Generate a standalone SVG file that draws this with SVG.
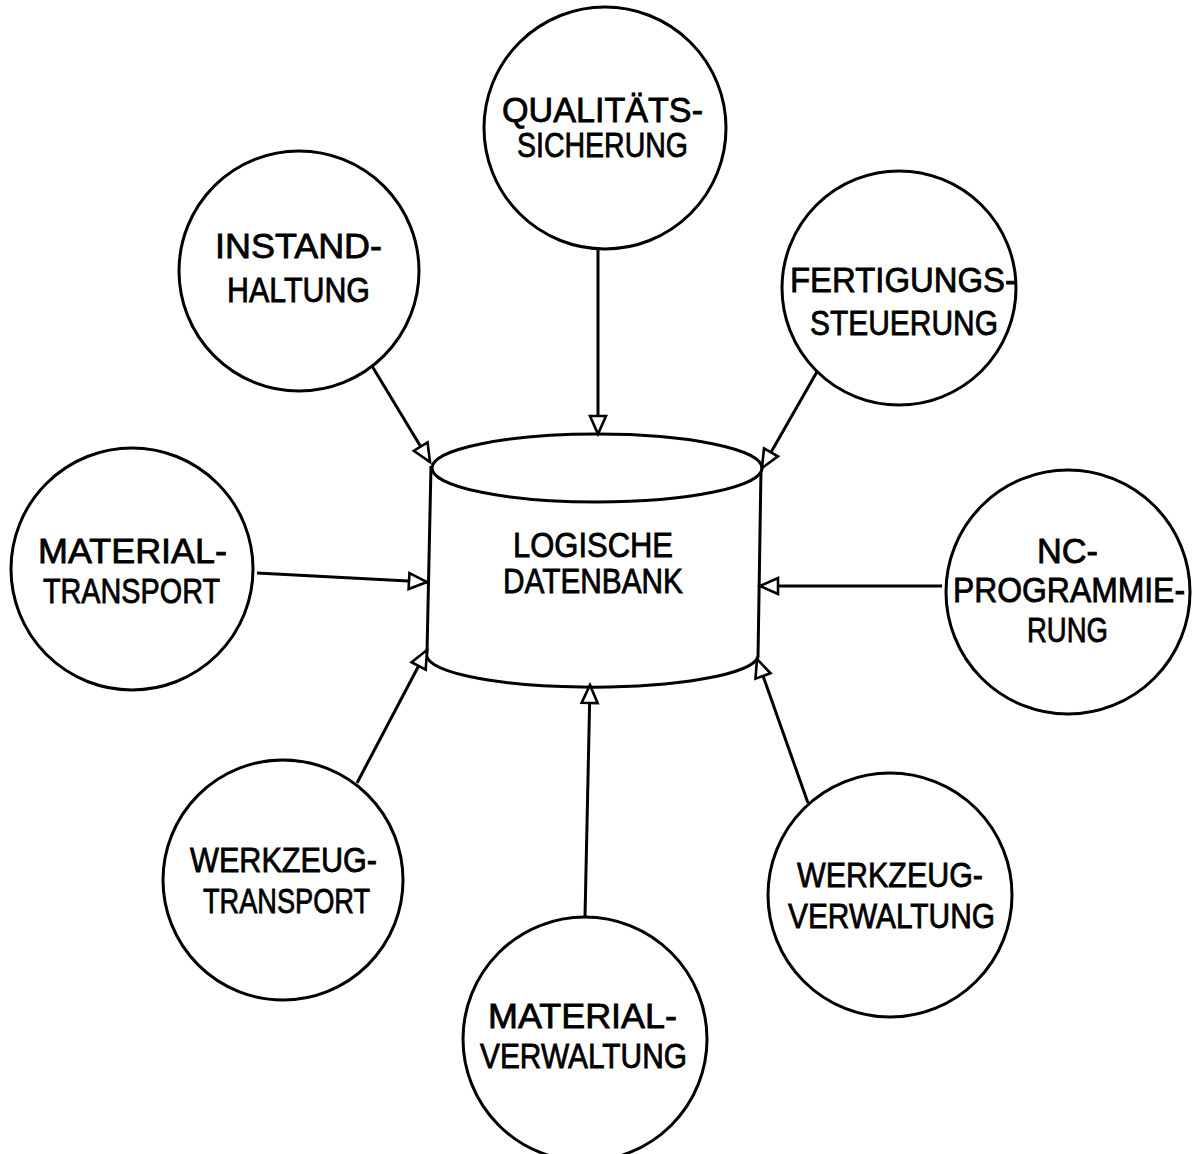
<svg xmlns="http://www.w3.org/2000/svg" width="1196" height="1154" viewBox="0 0 1196 1154">
<style>
.node{fill:#fff;stroke:#000;stroke-width:3}
.lbl{font-family:"Liberation Sans","DejaVu Sans",sans-serif;font-size:35px;fill:#000;stroke:#000;stroke-width:0.8}
.edge{stroke:#000;stroke-width:3;fill:none;marker-end:url(#tri)}
</style>
<defs>
<marker id="tri" markerUnits="userSpaceOnUse" markerWidth="24" markerHeight="20" viewBox="-2 -2 24 20" refX="18" refY="8" orient="auto">
<path d="M0,0 L18,8 L0,16 Z" fill="#fff" stroke="#000" stroke-width="2.6" stroke-linejoin="miter"/>
</marker>
</defs>
<rect width="1196" height="1154" fill="#fff"/>
<g id="db">
<path class="node" d="M431,466 L427,653 A165,32 0 0 0 758,657 L761,470"/>
<ellipse class="node" cx="597" cy="468" rx="165" ry="34"/>
<text class="lbl" x="513" y="557" textLength="160" lengthAdjust="spacingAndGlyphs">LOGISCHE</text>
<text class="lbl" x="503" y="593" textLength="180" lengthAdjust="spacingAndGlyphs">DATENBANK</text>
</g>
<g id="connectors">
<line class="edge" x1="598" y1="249" x2="598" y2="434"/>
<line class="edge" x1="372" y1="366" x2="430" y2="462"/>
<line class="edge" x1="818" y1="370" x2="762" y2="468"/>
<line class="edge" x1="257" y1="573" x2="427" y2="582"/>
<line class="edge" x1="942" y1="586" x2="760" y2="586"/>
<line class="edge" x1="357" y1="783" x2="427" y2="650"/>
<line class="edge" x1="808" y1="803" x2="757" y2="659"/>
<line class="edge" x1="585" y1="917" x2="590" y2="685"/>
</g>
<g id="qs">
<circle class="node" cx="605" cy="128" r="121"/>
<text class="lbl" x="502" y="122" textLength="201" lengthAdjust="spacingAndGlyphs">QUALITÄTS-</text>
<text class="lbl" x="517" y="157" textLength="171" lengthAdjust="spacingAndGlyphs">SICHERUNG</text>
</g>
<g id="ih">
<circle class="node" cx="299" cy="271" r="120"/>
<text class="lbl" x="215" y="258" textLength="167" lengthAdjust="spacingAndGlyphs">INSTAND-</text>
<text class="lbl" x="227" y="302" textLength="143" lengthAdjust="spacingAndGlyphs">HALTUNG</text>
</g>
<g id="fs">
<circle class="node" cx="899" cy="288" r="117"/>
<text class="lbl" x="790" y="292" textLength="226" lengthAdjust="spacingAndGlyphs">FERTIGUNGS-</text>
<text class="lbl" x="810" y="335" textLength="188" lengthAdjust="spacingAndGlyphs">STEUERUNG</text>
</g>
<g id="mt">
<circle class="node" cx="132" cy="569" r="121"/>
<text class="lbl" x="38" y="563" textLength="189" lengthAdjust="spacingAndGlyphs">MATERIAL-</text>
<text class="lbl" x="43" y="603" textLength="177" lengthAdjust="spacingAndGlyphs">TRANSPORT</text>
</g>
<g id="nc">
<circle class="node" cx="1068" cy="592" r="122"/>
<text class="lbl" x="1037" y="563" textLength="61" lengthAdjust="spacingAndGlyphs">NC-</text>
<text class="lbl" x="953" y="602" textLength="232" lengthAdjust="spacingAndGlyphs">PROGRAMMIE-</text>
<text class="lbl" x="1027" y="642" textLength="81" lengthAdjust="spacingAndGlyphs">RUNG</text>
</g>
<g id="wt">
<circle class="node" cx="283" cy="880" r="120"/>
<text class="lbl" x="190" y="872" textLength="187" lengthAdjust="spacingAndGlyphs">WERKZEUG-</text>
<text class="lbl" x="203" y="913" textLength="167" lengthAdjust="spacingAndGlyphs">TRANSPORT</text>
</g>
<g id="wv">
<circle class="node" cx="890" cy="895" r="122"/>
<text class="lbl" x="797" y="887" textLength="186" lengthAdjust="spacingAndGlyphs">WERKZEUG-</text>
<text class="lbl" x="788" y="928" textLength="207" lengthAdjust="spacingAndGlyphs">VERWALTUNG</text>
</g>
<g id="mv">
<circle class="node" cx="585" cy="1039" r="122"/>
<text class="lbl" x="488" y="1028" textLength="189" lengthAdjust="spacingAndGlyphs">MATERIAL-</text>
<text class="lbl" x="480" y="1068" textLength="207" lengthAdjust="spacingAndGlyphs">VERWALTUNG</text>
</g>
</svg>
